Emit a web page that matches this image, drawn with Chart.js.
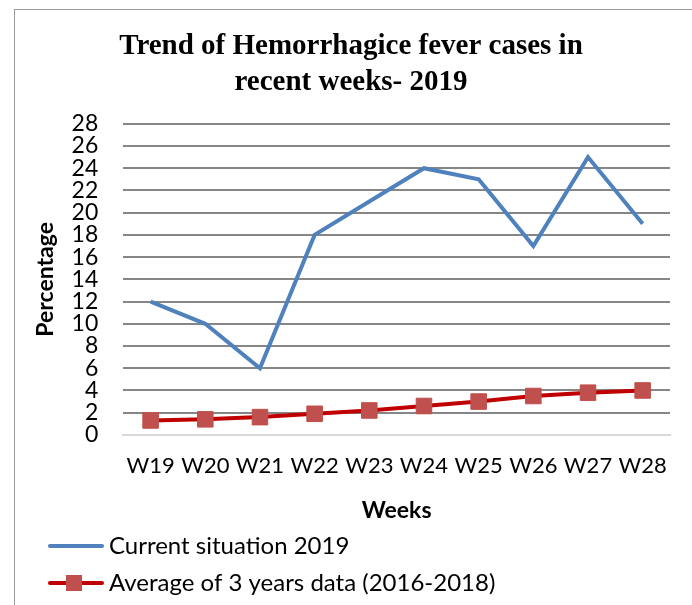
<!DOCTYPE html>
<html>
<head>
<meta charset="utf-8">
<script src="https://cdn.jsdelivr.net/npm/chart.js@4.4.0/dist/chart.umd.min.js"></script>
<style>
  html, body { margin: 0; padding: 0; background: #fff; overflow: hidden; }
  #frame { position: absolute; left: 14px; top: 9px; width: 720px; height: 640px; border: 1px solid #9a9a9a; }
  #wrap { position: absolute; left: 0; top: 0; width: 692px; height: 605px; }
</style>
</head>
<body>
<div id="frame"></div>
<div id="wrap"><canvas id="c" width="692" height="605"></canvas></div>
<script>
const weeks = ["W19","W20","W21","W22","W23","W24","W25","W26","W27","W28"];
const current2019 = [12, 10, 6, 18, 21, 24, 23, 17, 25, 19];
const average3yrs = [1.3, 1.4, 1.6, 1.9, 2.2, 2.6, 3.0, 3.5, 3.8, 4.0];
const yTicks = [0,2,4,6,8,10,12,14,16,18,20,22,24,26,28];
const seriesNames = ["Current situation 2019", "Average of 3 years data (2016-2018)"];
const titleLines = ["Trend of Hemorrhagice fever cases in", "recent weeks- 2019"];

function legendIcon(color, withMarker, markerColor) {
  const cv = document.createElement('canvas');
  cv.width = 70; cv.height = 18;
  const g = cv.getContext('2d');
  g.strokeStyle = color; g.lineWidth = 4; g.lineCap = 'round';
  g.beginPath(); g.moveTo(14, 9); g.lineTo(66, 9); g.stroke();
  if (withMarker) { g.fillStyle = markerColor; g.fillRect(30, 1, 16, 16); }
  return cv;
}

const blue = '#4F81BD', red = '#C00000', redMarker = '#C0504D';
const icons = [legendIcon(blue, false), legendIcon(red, true, redMarker)];

new Chart(document.getElementById('c'), {
  type: 'line',
  data: {
    labels: weeks,
    datasets: [
      { label: seriesNames[0], data: current2019, borderColor: blue, backgroundColor: blue,
        borderWidth: 4, pointRadius: 0, tension: 0 },
      { label: seriesNames[1], data: average3yrs, borderColor: red, backgroundColor: redMarker,
        borderWidth: 4, pointStyle: 'rect', pointRadius: 11, pointBackgroundColor: redMarker,
        pointBorderColor: redMarker, pointBorderWidth: 1, tension: 0 }
    ]
  },
  options: {
    responsive: false,
    animation: false,
    devicePixelRatio: 1,
    layout: { padding: { left: 32, right: 22, top: 14, bottom: 0 } },
    plugins: {
      title: { display: true, text: titleLines, color: '#000',
        font: { family: 'Liberation Serif', size: 29, weight: 'bold', lineHeight: 1.22 },
        padding: { top: 15, bottom: 24 } },
      legend: { position: 'bottom', align: 'start',
        labels: { usePointStyle: true, pointStyleWidth: 52, padding: 13, color: '#000',
          font: { family: 'Lato', size: 24 },
          generateLabels: (chart) => chart.data.datasets.map((ds, i) => ({
            text: ds.label, pointStyle: icons[i], datasetIndex: i, hidden: false,
            fillStyle: ds.borderColor, strokeStyle: ds.borderColor, lineWidth: 0, fontColor: '#000'
          }))
        } },
      tooltip: { enabled: false }
    },
    scales: {
      x: { offset: true, grid: { display: false, drawTicks: false },
        border: { display: true, color: '#d9d9d9', width: 2 },
        ticks: { color: '#000', font: { family: 'Lato', size: 22 }, padding: 18, maxRotation: 0, autoSkip: false },
        title: { display: true, text: 'Weeks', color: '#000', font: { family: 'Lato', size: 23, weight: 'bold', lineHeight: 0.9 }, padding: { top: 3, bottom: 0 } } },
      y: { min: 0, max: 28,
        afterBuildTicks: (ax) => { ax.ticks = yTicks.map(v => ({ value: v })); },
        grid: { color: (c) => c.tick && c.tick.value === 0 ? '#d9d9d9' : '#868686', lineWidth: 2, drawTicks: false },
        border: { display: false },
        ticks: { color: '#000', font: { family: 'Lato', size: 23 }, padding: 25, autoSkip: false },
        title: { display: true, text: 'Percentage', color: '#000', font: { family: 'Lato', size: 23, weight: 'bold' }, padding: { top: 0, bottom: -13 } } }
    }
  }
});
</script>
</body>
</html>
